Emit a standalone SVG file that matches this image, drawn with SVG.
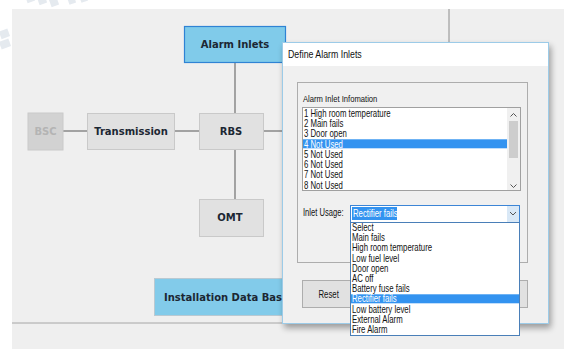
<svg xmlns="http://www.w3.org/2000/svg" width="564" height="349" viewBox="0 0 564 349">
  <defs>
    <style>
      .node { fill: #e1e1e1; stroke: #c9c9c9; stroke-width: 1; }
      .blue { fill: #82cbea; }
      .lbl { font-family: "DejaVu Sans", Verdana, sans-serif; font-weight: bold; font-size: 10px; fill: #1c2733; }
      .conn { stroke: #6f6f6f; stroke-width: 1.2; fill: none; }
      .ui { font-family: "Liberation Sans", Arial, sans-serif; font-size: 10px; fill: #111; }
      .uiw { font-family: "Liberation Sans", Arial, sans-serif; font-size: 10px; fill: #ffffff; }
      .chev { fill: none; stroke: #555; stroke-width: 1; }
    </style>
    <filter id="shadow" x="-10%" y="-10%" width="120%" height="120%">
      <feGaussianBlur stdDeviation="3"/>
    </filter>
  </defs>

  <!-- page -->
  <rect x="0" y="0" width="564" height="349" fill="#ffffff"/>
  <rect x="12" y="9" width="552" height="340" fill="#efefef"/>

  <!-- faint watermark blocks -->
  <g fill="#dfe5ec" opacity="0.8">
    <rect x="26" y="-6" width="8" height="8" transform="rotate(-20 30 -2)"/>
    <rect x="38" y="-4" width="8" height="8" transform="rotate(-20 42 0)"/>
    <rect x="50" y="-2" width="8" height="8" transform="rotate(-20 54 2)"/>
    <rect x="68" y="-3" width="7" height="7" transform="rotate(-20 71 0)"/>
    <rect x="80" y="-5" width="7" height="7" transform="rotate(-20 83 -2)"/>
    <rect x="0" y="30" width="9" height="8" transform="rotate(-20 4 34)"/>
    <rect x="0" y="40" width="10" height="8" transform="rotate(-20 5 44)"/>
  </g>

  <!-- frame lines -->
  <line x1="449" y1="9" x2="449" y2="43" stroke="#8c8c8c" stroke-width="1"/>
  <line x1="12" y1="323" x2="290" y2="323" stroke="#a6a6a6" stroke-width="1"/>

  <!-- connectors -->
  <g id="connectors">
    <line class="conn" x1="63" y1="131" x2="87" y2="131"/>
    <line class="conn" x1="175" y1="131" x2="199" y2="131"/>
    <line class="conn" x1="264" y1="131" x2="290" y2="131"/>
    <line class="conn" x1="235" y1="63" x2="235" y2="113"/>
    <line class="conn" x1="235" y1="150" x2="235" y2="199"/>
  </g>

  <!-- nodes -->
  <g id="node-alarm-inlets">
    <rect x="184.5" y="26.5" width="101" height="36" fill="#80cbea" stroke="#2f83d4" stroke-width="1.2"/>
    <text class="lbl" x="235" y="47.6" text-anchor="middle">Alarm Inlets</text>
  </g>
  <g id="node-bsc">
    <rect x="28" y="113" width="35" height="37" fill="#d2d2d2" stroke="#cacaca"/>
    <text class="lbl" x="45.5" y="134.6" text-anchor="middle" style="fill:#b4b4b4">BSC</text>
  </g>
  <g id="node-transmission">
    <rect class="node" x="87.5" y="113.5" width="87" height="36"/>
    <text class="lbl" x="131" y="134.6" text-anchor="middle">Transmission</text>
  </g>
  <g id="node-rbs">
    <rect class="node" x="199.5" y="113.5" width="64" height="36"/>
    <text class="lbl" x="231" y="134.6" text-anchor="middle">RBS</text>
  </g>
  <g id="node-omt">
    <rect class="node" x="199.5" y="199.5" width="64" height="37"/>
    <text class="lbl" x="230" y="221.3" text-anchor="middle">OMT</text>
  </g>
  <g id="node-installation-data-base">
    <rect x="154.5" y="278.5" width="170" height="37" fill="#82cbea" stroke="#b9c9d2"/>
    <text class="lbl" x="164" y="301.3">Installation Data Base</text>
  </g>

  <!-- dialog window -->
  <g id="dialog">
    <rect x="284" y="46" width="267" height="282" fill="#000" opacity="0.35" filter="url(#shadow)"/>
    <rect x="282.5" y="42.5" width="266" height="281" fill="#f0f0f0" stroke="#9ccbe8"/>
    <rect x="283" y="43" width="265" height="23" fill="#ffffff"/>
    <text class="ui" transform="translate(288 57.5) scale(0.88 1)">Define Alarm Inlets</text>

    <!-- group box -->
    <rect x="297.5" y="82.5" width="230" height="180" fill="none" stroke="#adadad"/>
    <text class="ui" style="font-size:9px" transform="translate(303 101.5) scale(0.85 1)">Alarm Inlet Infomation</text>

    <!-- list box -->
    <rect x="302.5" y="107.5" width="218" height="83" fill="#ffffff" stroke="#a0a0a0"/>
    <rect x="303" y="139.3" width="204" height="9" fill="#3393f0"/>
    <g class="ui">
      <text transform="translate(304 116.6) scale(0.78 1)">1 High room temperature</text>
      <text transform="translate(304 126.9) scale(0.78 1)">2 Main fails</text>
      <text transform="translate(304 137.2) scale(0.78 1)">3 Door open</text>
      <text transform="translate(304 147.5) scale(0.78 1)" style="fill:#ffffff">4 Not Used</text>
      <text transform="translate(304 157.8) scale(0.78 1)">5 Not Used</text>
      <text transform="translate(304 168.1) scale(0.78 1)">6 Not Used</text>
      <text transform="translate(304 178.4) scale(0.78 1)">7 Not Used</text>
      <text transform="translate(304 188.7) scale(0.78 1)">8 Not Used</text>
    </g>
    <!-- scrollbar -->
    <rect x="507" y="108" width="13" height="82" fill="#f0f0f0"/>
    <rect x="509" y="121" width="9" height="37" fill="#cdcdcd"/>
    <polyline class="chev" points="510.5,116.5 513.5,113.5 516.5,116.5"/>
    <polyline class="chev" points="510.5,184.5 513.5,187.5 516.5,184.5"/>

    <!-- inlet usage combo -->
    <text class="ui" transform="translate(303 216) scale(0.76 1)">Inlet Usage:</text>
    <rect x="350.5" y="205.5" width="169" height="17" fill="#ffffff" stroke="#3c85d6"/>
    <rect x="352" y="207" width="45" height="13" fill="#3393f0"/>
    <text class="uiw" transform="translate(353 216.5) scale(0.78 1)">Rectifier fails</text>
    <rect x="507" y="206" width="12" height="16" fill="#d9e8f6"/>
    <polyline class="chev" points="510,212 513,215 516,212"/>

    <!-- buttons -->
    <rect x="302.5" y="280.5" width="54" height="27" fill="#e1e1e1" stroke="#adadad"/>
    <text class="ui" transform="translate(318.5 297.5) scale(0.78 1)">Reset</text>
    <rect x="440.5" y="280.5" width="87" height="27" fill="#e1e1e1" stroke="#adadad"/>

    <!-- dropdown list -->
    <rect x="350.5" y="222.5" width="169" height="113" fill="#ffffff" stroke="#4a7fb8"/>
    <rect x="351" y="294.3" width="168" height="9" fill="#3393f0"/>
    <g class="ui">
      <text transform="translate(352 230.9) scale(0.78 1)">Select</text>
      <text transform="translate(352 241.1) scale(0.78 1)">Main fails</text>
      <text transform="translate(352 251.3) scale(0.78 1)">High room temperature</text>
      <text transform="translate(352 261.5) scale(0.78 1)">Low fuel level</text>
      <text transform="translate(352 271.7) scale(0.78 1)">Door open</text>
      <text transform="translate(352 281.9) scale(0.78 1)">AC off</text>
      <text transform="translate(352 292.1) scale(0.78 1)">Battery fuse fails</text>
      <text transform="translate(352 302.3) scale(0.78 1)" style="fill:#ffffff">Rectifier fails</text>
      <text transform="translate(352 312.5) scale(0.78 1)">Low battery level</text>
      <text transform="translate(352 322.7) scale(0.78 1)">External Alarm</text>
      <text transform="translate(352 332.9) scale(0.78 1)">Fire Alarm</text>
    </g>
  </g>
</svg>
